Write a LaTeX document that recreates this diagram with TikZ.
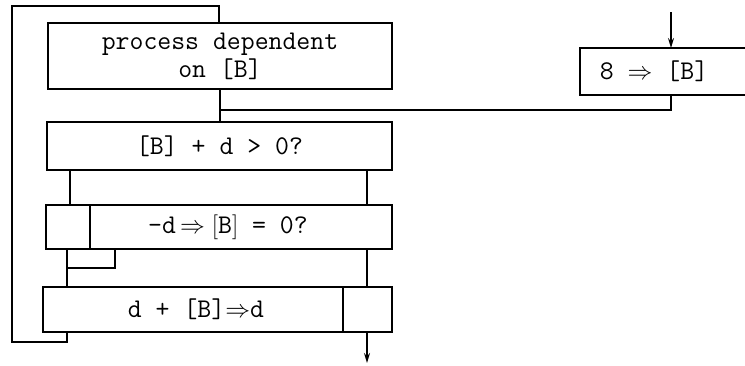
\documentclass[tikz,border=0pt]{standalone}
\usepackage{fontspec}
\usetikzlibrary{arrows.meta}
\tikzset{
  blk/.style={draw,line width=1.5pt,minimum width=345pt,inner sep=0pt,
    font=\ttfamily\fontsize{27}{28}\selectfont,align=center},
  txt/.style={font=\ttfamily\fontsize{27}{28}\selectfont},
  ln/.style={line width=1.5pt},
  arr/.style={ln,-{Stealth[length=10pt,width=6pt]}}
}
\begin{document}
\begin{tikzpicture}[x=1pt,y=-1pt]
    \useasboundingbox (0,0) rectangle (745,365);
    % boxes of the loop
    \node[blk,minimum width=344pt,minimum height=66pt] (proc) at (220,56) {process dependent\\on [B]};
    \node[blk,minimum height=48pt] (test1) at (219.5,146) {[B] + d > 0?};
    \node[blk,minimum width=346pt,minimum height=44pt] (test2) at (219,227) {};
    \node[txt] (test2txt) at (228,227) {-d$\,\Rightarrow\big[$B$\big]$ = 0?};
    \node[blk,minimum width=349pt,minimum height=45pt] (upd) at (217.5,309.5) {};
    \node[txt] (updtxt) at (196,309.5) {d + [B]$\Rightarrow$d};
    % box on the right, open at the edge
    \node[txt] (set) at (654,71.5) {8 $\Rightarrow$ [B]};
    \draw[ln] (746,48) -- (580,48) -- (580,95) -- (746,95);
    \coordinate (in) at (671,12);
    \coordinate (out) at (367,363);
    \coordinate (jn) at (220,110);
    % columns
    \coordinate (lcol) at (70,0);
    \coordinate (rcol) at (367,0);
    % dividers
    \draw[ln] (test2.north -| 90,0) -- (test2.south -| 90,0);
    \draw[ln] (upd.north -| 343,0) -- (upd.south -| 343,0);
    % connectors
    \draw[arr] (in) -- (671,48);
    \draw[ln] (671,95) -- (671,110) -- (jn);
    \draw[ln] (proc.south) -- (test1.north -| proc.south);
    \draw[ln] (test1.south -| lcol) -- (test2.north -| lcol);
    \draw[ln] (test1.south -| rcol) -- (test2.north -| rcol);
    \draw[ln] (test2.south -| 67,0) -- (upd.north -| 67,0);
    \draw[ln] (67,268) -- (115,268) -- (test2.south -| 115,0);
    \draw[ln] (test2.south -| rcol) -- (upd.north -| rcol);
    \draw[arr] (upd.south -| rcol) -- (out);
    % back loop
    \draw[ln] (upd.south -| 67,0) -- (67,342) -- (12,342) -- (12,6) -- (219,6) -- (proc.north -| 219,0);
\end{tikzpicture}
\end{document}
